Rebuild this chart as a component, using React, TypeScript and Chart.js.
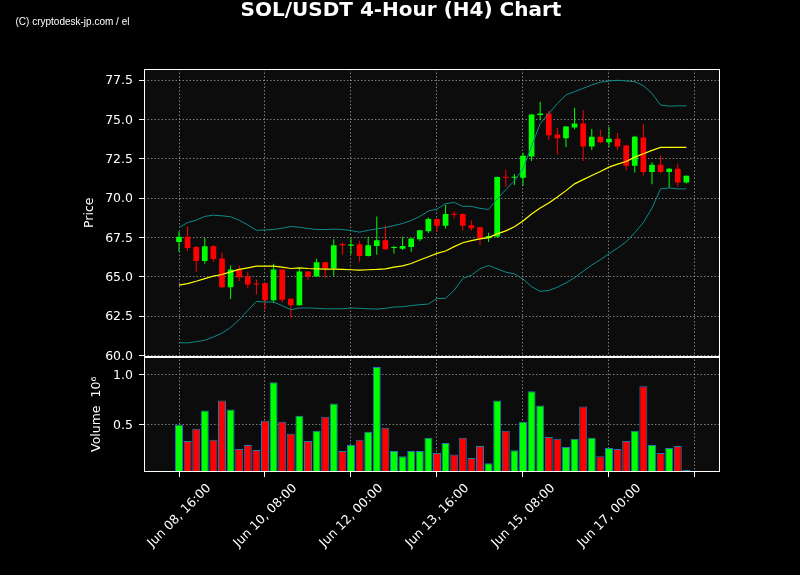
import React, { useEffect, useRef } from "react";
import { Chart, registerables } from "chart.js";

Chart.register(...registerables);

const TITLE = "SOL/USDT 4-Hour (H4) Chart";
const WATERMARK = "(C) cryptodesk-jp.com / el";

// 4-hour candles, Jun 08 16:00 onward (index = candle number)
const OPEN = [
  67.21, 67.53, 66.89, 65.99, 66.93, 66.16, 64.33, 65.46, 65.01, 64.56,
  64.58, 63.5, 65.46, 63.6, 63.18, 65.33, 65.01, 65.91, 65.52, 67.08,
  66.97, 67.06, 66.31, 66.95, 67.31, 66.82, 66.78, 66.89, 67.38, 67.89,
  68.66, 68.23, 68.99, 68.98, 68.27, 68.14, 67.44, 67.55, 71.34, 71.28,
  71.28, 72.64, 75.27, 75.37, 74.03, 73.8, 74.48, 74.73, 73.28, 73.9,
  73.54, 73.77, 73.33, 72.05, 73.84, 71.66, 72.11, 71.66, 71.86, 70.98,
];
const HIGH = [
  67.87, 68.19, 66.95, 67.46, 66.99, 66.52, 65.71, 65.71, 65.31, 64.82,
  64.62, 65.82, 65.5, 63.65, 65.5, 65.37, 66.14, 65.95, 67.38, 67.19,
  67.42, 67.27, 67.53, 68.83, 68.27, 66.95, 67.53, 67.44, 67.97, 68.76,
  68.7, 69.57, 69.15, 69.02, 68.57, 68.17, 67.8, 71.36, 71.79, 71.53,
  72.88, 75.33, 76.12, 75.54, 74.46, 74.58, 75.74, 75.59, 74.39, 74.33,
  74.52, 74.14, 73.37, 73.95, 74.71, 72.28, 72.71, 71.9, 72.2, 71.43,
];
const LOW = [
  66.57, 66.63, 65.31, 65.82, 65.95, 64.26, 63.58, 64.73, 64.26, 63.86,
  62.9, 63.33, 63.39, 62.37, 63.15, 64.78, 64.98, 64.93, 65.03, 66.4,
  66.42, 65.95, 66.28, 66.4, 66.7, 66.46, 66.7, 66.59, 67.25, 67.78,
  67.85, 68.06, 68.7, 67.93, 67.93, 66.99, 67.21, 67.48, 70.72, 70.83,
  70.77, 72.35, 74.95, 73.67, 72.77, 73.24, 74.37, 72.35, 73.05, 73.48,
  73.22, 73.03, 71.75, 71.62, 71.43, 70.87, 71.58, 70.66, 70.72, 70.92,
];
const CLOSE = [
  67.53, 66.82, 65.99, 66.93, 66.12, 64.33, 65.46, 64.97, 64.5, 64.5,
  63.5, 65.46, 63.54, 63.18, 65.33, 65.01, 65.91, 65.52, 66.99, 67.0,
  67.05, 66.31, 66.99, 67.31, 66.74, 66.89, 66.95, 67.42, 67.95, 68.66,
  68.23, 68.98, 68.93, 68.23, 68.08, 67.44, 67.59, 71.34, 71.28, 71.34,
  72.69, 75.31, 75.37, 73.99, 73.8, 74.54, 74.73, 73.28, 73.9, 73.54,
  73.77, 73.28, 72.05, 73.9, 71.66, 72.11, 71.66, 71.86, 70.98, 71.41,
];
// 20-period SMA and Bollinger bands
const SMA = [
  64.46, 64.56, 64.71, 64.88, 65.03, 65.14, 65.31, 65.46, 65.56, 65.67,
  65.67, 65.67, 65.61, 65.52, 65.56, 65.52, 65.5, 65.48, 65.48, 65.46,
  65.44, 65.42, 65.44, 65.46, 65.5, 65.61, 65.69, 65.84, 66.06, 66.27,
  66.48, 66.63, 66.91, 67.16, 67.29, 67.4, 67.48, 67.72, 67.91, 68.17,
  68.54, 68.98, 69.36, 69.68, 70.06, 70.47, 70.9, 71.17, 71.43, 71.69,
  71.96, 72.15, 72.32, 72.6, 72.81, 73.03, 73.22, 73.22, 73.22, 73.22,
];
const UPPER = [
  68.12, 68.44, 68.59, 68.83, 68.91, 68.87, 68.81, 68.59, 68.29, 67.95,
  67.97, 68.0, 68.08, 68.19, 68.14, 68.06, 68.0, 68.0, 68.02, 68.0,
  67.93, 67.83, 67.95, 68.04, 68.12, 68.25, 68.38, 68.57, 68.83, 69.17,
  69.3, 69.64, 69.72, 69.47, 69.47, 69.34, 69.27, 69.94, 70.53, 71.09,
  71.85, 73.3, 74.73, 75.37, 76.01, 76.55, 76.76, 76.97, 77.19, 77.36,
  77.44, 77.48, 77.44, 77.4, 77.14, 76.65, 75.91, 75.84, 75.86, 75.86,
];
const LOWER = [
  60.81, 60.79, 60.87, 60.96, 61.17, 61.41, 61.77, 62.26, 62.86, 63.43,
  63.39, 63.39, 63.16, 62.9, 63.01, 63.01, 62.99, 62.96, 62.96, 62.96,
  63.01, 62.99, 62.96, 62.94, 62.99, 63.07, 63.09, 63.16, 63.22, 63.26,
  63.62, 63.62, 64.14, 64.88, 65.1, 65.5, 65.71, 65.5, 65.29, 65.18,
  64.85, 64.36, 64.07, 64.12, 64.33, 64.61, 64.93, 65.35, 65.74, 66.08,
  66.46, 66.82, 67.21, 67.8, 68.44, 69.36, 70.58, 70.64, 70.58, 70.58,
];
// volume in units of 10^6
const VOLUME = [
  0.497, 0.333, 0.456, 0.64, 0.344, 0.741, 0.65, 0.252, 0.293, 0.241,
  0.537, 0.925, 0.527, 0.405, 0.588, 0.333, 0.435, 0.578, 0.711, 0.231,
  0.293, 0.344, 0.425, 1.078, 0.466, 0.231, 0.18, 0.231, 0.231, 0.364,
  0.211, 0.313, 0.197, 0.364, 0.16, 0.282, 0.109, 0.741, 0.435, 0.238,
  0.527, 0.833, 0.69, 0.374, 0.354, 0.272, 0.354, 0.68, 0.364, 0.18,
  0.262, 0.252, 0.333, 0.435, 0.884, 0.293, 0.211, 0.262, 0.282, 0.04,
];

const X_TICKS = [0, 10, 20, 30, 40, 50, 60];
const X_TICK_LABELS = [
  "Jun 08, 16:00",
  "Jun 10, 08:00",
  "Jun 12, 00:00",
  "Jun 13, 16:00",
  "Jun 15, 08:00",
  "Jun 17, 00:00",
  "",
];
const PRICE_TICKS = [60, 62.5, 65, 67.5, 70, 72.5, 75, 77.5];
const VOLUME_TICKS = [0.5, 1.0];

const X_MIN = -4.07;
const X_MAX = 62.91;
const PRICE_MIN = 59.925;
const PRICE_MAX = 78.2;
const VOL_MIN = 0.02;
const VOL_MAX = 1.184;

const UP = "#00ff00";
const DOWN = "#ff0000";
const GRID = "rgba(180,180,180,0.85)";
const FONT = { family: "DejaVu Sans", size: 12.5 };

export default function App() {
  const ref = useRef<HTMLCanvasElement>(null);

  useEffect(() => {
    if (!ref.current) return;
    const idx = OPEN.map((_, i) => i);
    const colors = idx.map((i) => (CLOSE[i] >= OPEN[i] ? UP : DOWN));

    const panels = {
      id: "panels",
      beforeDraw(chart: any) {
        const { ctx, chartArea } = chart;
        ctx.save();
        ctx.fillStyle = "#000";
        ctx.fillRect(0, 0, chart.width, chart.height);
        ctx.fillStyle = "#0c0c0c";
        ctx.fillRect(
          chartArea.left,
          chartArea.top,
          chartArea.right - chartArea.left,
          chartArea.bottom - chartArea.top
        );
        ctx.restore();
      },
      afterDraw(chart: any) {
        const { ctx, chartArea, scales } = chart;
        ctx.save();
        ctx.strokeStyle = "#fff";
        ctx.lineWidth = 1;
        const l = Math.round(chartArea.left) + 0.5;
        const r = Math.round(chartArea.right) - 0.5;
        const py = scales.y;
        const vy = scales.yv;
        ctx.strokeRect(l, Math.round(py.top) + 0.5, r - l, Math.round(py.bottom) - Math.round(py.top) - 1);
        ctx.strokeRect(l, Math.round(vy.top) + 0.5, r - l, Math.round(vy.bottom) - Math.round(vy.top) - 1);
        ctx.fillStyle = "#fff";
        ctx.font = '10px "Liberation Sans"';
        ctx.textBaseline = "alphabetic";
        ctx.textAlign = "left";
        ctx.fillText(WATERMARK, 15.5, 25);
        ctx.restore();
      },
    };

    const chart = new Chart(ref.current, {
      type: "bar",
      data: {
        datasets: [
          {
            type: "line",
            data: idx.map((i) => ({ x: i, y: SMA[i] })),
            borderColor: "#ffff00",
            borderWidth: 1.2,
            pointRadius: 0,
            yAxisID: "y",
            order: 0,
          } as any,
          {
            type: "line",
            data: idx.map((i) => ({ x: i, y: UPPER[i] })),
            borderColor: "#0f8a8a",
            borderWidth: 1,
            pointRadius: 0,
            yAxisID: "y",
            order: 0,
          },
          {
            type: "line",
            data: idx.map((i) => ({ x: i, y: LOWER[i] })),
            borderColor: "#0f8a8a",
            borderWidth: 1,
            pointRadius: 0,
            yAxisID: "y",
            order: 0,
          },
          {
            type: "bar",
            data: idx.map((i) => ({ x: i, y: [OPEN[i], CLOSE[i]] })),
            backgroundColor: colors,
            borderWidth: 0,
            barThickness: 5.7,
            grouped: false,
            inflateAmount: 0,
            minBarLength: 1,
            yAxisID: "y",
            order: 1,
          },
          {
            type: "bar",
            data: idx.map((i) => ({ x: i, y: [LOW[i], HIGH[i]] })),
            backgroundColor: colors,
            borderWidth: 0,
            barThickness: 1,
            grouped: false,
            inflateAmount: 0,
            yAxisID: "y",
            order: 2,
          },
          {
            type: "bar",
            data: idx.map((i) => ({ x: i, y: VOLUME[i] })),
            backgroundColor: colors,
            borderColor: "#1f77b4",
            borderWidth: 1,
            barThickness: 8,
            grouped: false,
            inflateAmount: 0,
            minBarLength: 2,
            yAxisID: "yv",
            order: 3,
          },
        ] as any,
      },
      options: {
        animation: false,
        responsive: false,
        devicePixelRatio: 1,
        layout: { padding: { left: 82, right: 80, top: 0, bottom: 0 } },
        plugins: {
          legend: { display: false },
          tooltip: { enabled: false },
          title: {
            display: true,
            text: TITLE,
            color: "#fff",
            font: { family: "DejaVu Sans", size: 20, weight: "bold", lineHeight: 1 },
            padding: { top: 1, bottom: 48 },
          },
        },
        scales: {
          x: {
            type: "linear",
            min: X_MIN,
            max: X_MAX,
            offset: false,
            grid: {
              offset: false,
              color: GRID,
              lineWidth: 0.8,
              drawTicks: true,
              tickLength: 5,
              tickColor: "#fff",
              tickWidth: 1,
            },
            border: { display: false, dash: [1.5, 2] },
            ticks: {
              color: "#fff",
              font: FONT,
              autoSkip: false,
              minRotation: 45,
              maxRotation: 45,
              padding: 4,
              labelOffset: 30,
              callback: (_v: any, i: number) => X_TICK_LABELS[i],
            },
            afterBuildTicks: (s: any) => {
              s.ticks = X_TICKS.map((v) => ({ value: v }));
            },
            afterFit: (s: any) => {
              s.height = 103;
            },
          },
          yv: {
            type: "linear",
            position: "left",
            stack: "panels",
            stackWeight: 1,
            min: VOL_MIN,
            max: VOL_MAX,
            grid: {
              color: GRID,
              lineWidth: 0.8,
              drawTicks: true,
              tickLength: 5,
              tickColor: "#fff",
              tickWidth: 1,
            },
            border: { display: false, dash: [1.5, 2] },
            ticks: {
              color: "#fff",
              font: FONT,
              padding: 6,
              labelOffset: 1,
              callback: (v: any) => Number(v).toFixed(1),
            },
            afterBuildTicks: (s: any) => {
              s.ticks = VOLUME_TICKS.map((v) => ({ value: v }));
            },
            afterFit: (s: any) => {
              s.width = 62;
            },
            title: {
              display: true,
              text: "Volume  10⁶",
              color: "#fff",
              font: FONT,
              padding: { top: 7.5, bottom: 0 },
            },
          },
          y: {
            type: "linear",
            position: "left",
            stack: "panels",
            stackWeight: 2.49,
            min: PRICE_MIN,
            max: PRICE_MAX,
            grid: {
              color: GRID,
              lineWidth: 0.8,
              drawTicks: true,
              tickLength: 5,
              tickColor: "#fff",
              tickWidth: 1,
            },
            border: { display: false, dash: [1.5, 2] },
            ticks: {
              color: "#fff",
              font: FONT,
              padding: 6,
              labelOffset: 1,
              callback: (v: any) => Number(v).toFixed(1),
            },
            afterBuildTicks: (s: any) => {
              s.ticks = PRICE_TICKS.map((v) => ({ value: v }));
            },
            afterFit: (s: any) => {
              s.width = 62;
            },
            title: {
              display: true,
              text: "Price",
              color: "#fff",
              font: FONT,
              padding: { top: 0.5, bottom: 0 },
            },
          },
        } as any,
      },
      plugins: [panels],
    });

    return () => chart.destroy();
  }, []);

  return (
    <div
      style={{
        position: "fixed",
        left: 0,
        top: 0,
        width: 800,
        height: 575,
        background: "#000",
      }}
    >
      <canvas ref={ref} width={800} height={575} style={{ display: "block" }} />
    </div>
  );
}
